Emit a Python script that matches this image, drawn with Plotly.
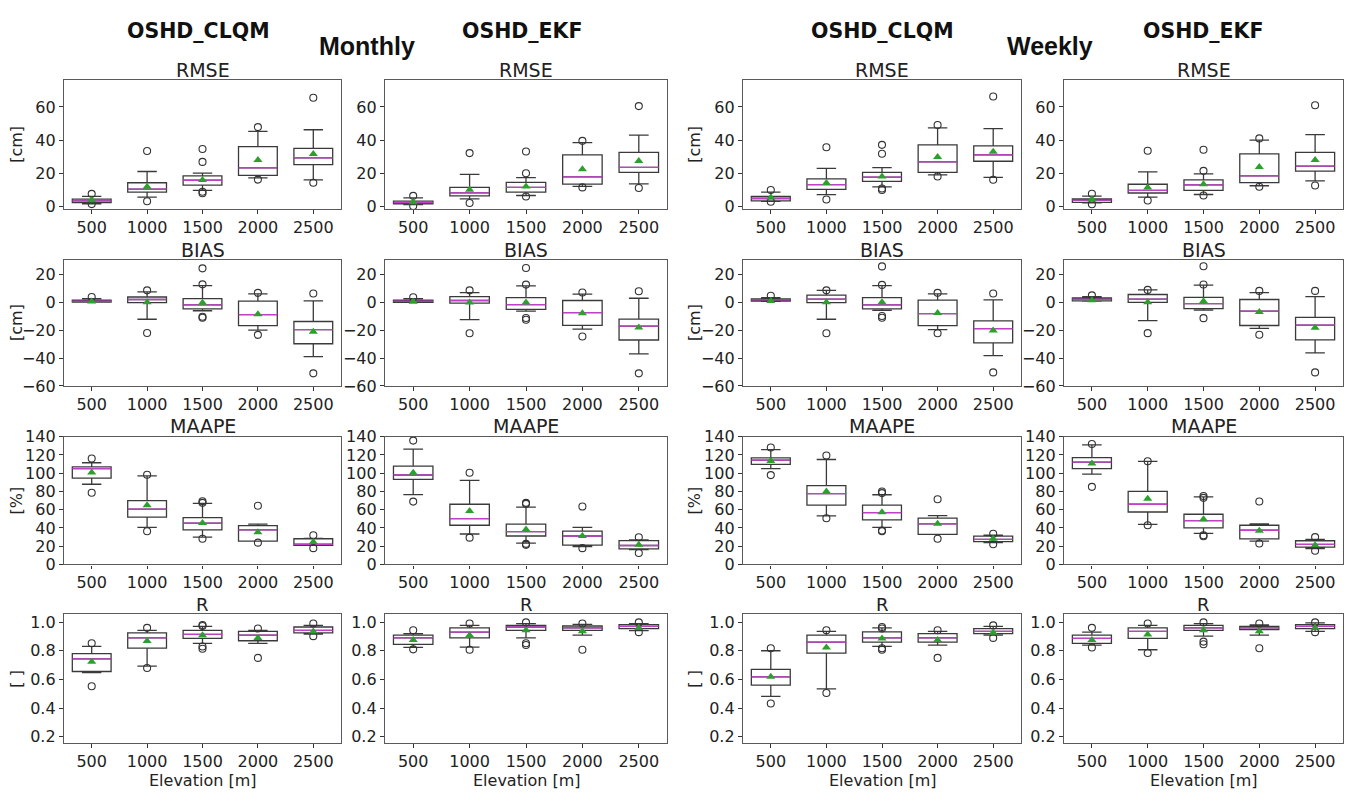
import plotly.graph_objects as go

# page size; the browser adds an 8 px body margin, so the figure is drawn 8 px in
PAGE_W, PAGE_H = 1354, 805
OFF = 8
W, H = PAGE_W - 2 * OFF, PAGE_H - 2 * OFF

ELEV = ["500", "1000", "1500", "2000", "2500"]
XPOS = [0, 1, 2, 3, 4]

# each row (one elevation): lower whisker, q1, median, q3, upper whisker, mean
RMSE_M_CLQM = [[1.5, 2.2, 3.2, 4.3, 6.0, 3.7], [5.5, 8.5, 10.4, 14.2, 21.0, 11.8],
               [9.6, 12.8, 15.7, 18.3, 20.0, 15.9], [17.1, 18.7, 23.2, 36.0, 45.2, 27.9],
               [15.9, 25.2, 29.3, 35.0, 46.2, 31.5]]
RMSE_M_CLQM_OUT = [[7.5, 1.3], [33.4, 3.0], [34.6, 26.8, 8.8, 7.9], [47.8, 16.1], [65.5, 14.2]]

RMSE_M_EKF = [[1.0, 1.4, 2.2, 3.1, 5.1, 2.4], [4.5, 6.3, 8.1, 11.4, 19.3, 10.0],
              [6.5, 8.5, 11.4, 14.4, 17.3, 12.0], [12.0, 13.4, 17.7, 31.1, 38.4, 22.4],
              [13.5, 20.5, 23.5, 32.5, 43.0, 27.3]]
RMSE_M_EKF_OUT = [[6.3, 0.2], [32.1, 2.0], [33.1, 19.9, 5.9], [39.5, 11.4], [60.5, 11.0]]

RMSE_W_CLQM = [[2.9, 3.3, 4.7, 5.9, 8.6, 5.3], [7.0, 10.2, 13.1, 16.6, 22.9, 14.1],
               [11.7, 15.0, 17.6, 20.5, 23.3, 18.0], [19.0, 20.5, 26.8, 37.1, 47.3, 29.7],
               [17.4, 27.2, 31.1, 36.5, 46.9, 33.0]]
RMSE_W_CLQM_OUT = [[9.8, 2.7], [35.6, 4.1], [37.1, 31.7, 10.7, 9.8], [49.1, 18.0], [66.3, 16.0]]

RMSE_W_EKF = [[2.0, 2.4, 3.7, 4.5, 6.1, 4.1], [5.5, 8.0, 9.6, 13.3, 20.8, 11.4],
              [7.1, 9.6, 12.9, 15.9, 19.6, 13.3], [12.4, 14.3, 18.4, 31.6, 40.0, 23.7],
              [15.3, 21.2, 24.3, 32.5, 43.3, 28.0]]
RMSE_W_EKF_OUT = [[7.6, 1.2], [33.5, 3.5], [34.1, 21.4, 6.5], [41.0, 11.8], [61.0, 12.5]]

BIAS_M_CLQM = [[0.2, 0.2, 0.9, 1.6, 2.7, 0.7], [-12.1, -0.2, 2.1, 3.9, 7.6, 0.2],
               [-6.0, -4.6, -1.8, 2.7, 12.1, -0.2], [-19.9, -16.7, -8.7, 0.9, 6.2, -8.5],
               [-38.9, -29.7, -19.5, -13.7, 1.1, -21.0]]
BIAS_M_CLQM_OUT = [[3.9], [8.7, -22.0], [24.5, 13.0, -10.3, -11.0], [6.9, -23.3], [6.4, -51.0]]

BIAS_M_EKF = [[0.0, 0.0, 0.9, 1.6, 2.7, 0.5], [-12.4, -0.5, 1.4, 4.1, 7.1, 0.0],
              [-6.2, -5.0, -1.6, 3.4, 11.9, 0.0], [-19.2, -16.5, -7.3, 1.4, 5.9, -7.8],
              [-37.0, -27.0, -17.0, -12.0, 3.0, -18.0]]
BIAS_M_EKF_OUT = [[3.7], [8.7, -22.2], [24.7, 12.8, -11.2, -12.4], [7.1, -24.5], [8.0, -51.0]]

BIAS_W_CLQM = [[0.7, 0.9, 1.8, 2.5, 3.4, 1.1], [-12.1, -0.2, 2.3, 5.3, 8.7, 0.2],
               [-5.7, -4.6, -1.8, 3.4, 12.1, 0.2], [-19.5, -16.7, -8.0, 1.6, 6.2, -7.6],
               [-38.2, -29.1, -18.8, -13.3, 1.8, -20.1]]
BIAS_W_CLQM_OUT = [[4.8], [8.7, -22.2], [25.9, 12.6, -9.8, -11.0], [6.9, -22.2], [6.4, -50.3]]

BIAS_W_EKF = [[0.9, 1.1, 2.3, 3.2, 4.1, 1.6], [-13.1, 0.0, 2.3, 5.7, 9.0, 0.2],
              [-5.5, -4.4, -0.9, 3.7, 12.4, 0.9], [-18.6, -16.6, -6.2, 2.1, 7.1, -6.9],
              [-36.3, -26.9, -16.3, -10.8, 4.1, -18.2]]
BIAS_W_EKF_OUT = [[5.1], [9.0, -22.1], [26.0, 12.9, -11.3], [8.3, -23.2], [8.3, -50.3]]

MAAPE_M_CLQM = [[87.9, 94.6, 105.0, 106.8, 111.4, 100.7], [40.7, 51.8, 60.7, 70.0, 97.0, 65.0],
                [30.0, 37.9, 45.4, 51.4, 67.0, 45.4], [25.7, 25.7, 37.9, 42.5, 44.3, 35.4],
                [21.1, 21.1, 22.1, 28.2, 28.6, 24.6]]
MAAPE_M_CLQM_OUT = [[116.0, 78.6], [98.2, 36.4], [69.3, 67.5, 28.2], [64.3, 23.9], [32.1, 17.9]]

MAAPE_M_EKF = [[76.5, 93.3, 98.0, 107.7, 126.3, 100.5], [33.4, 43.0, 50.3, 66.0, 92.2, 58.5],
               [23.3, 31.2, 35.9, 44.1, 62.8, 38.4], [19.7, 21.2, 31.2, 36.6, 40.6, 31.2],
               [16.2, 17.2, 20.8, 26.2, 26.9, 21.5]]
MAAPE_M_EKF_OUT = [[135.7, 68.9], [100.5, 29.4], [67.5, 66.4, 22.6, 21.5], [63.5, 17.9], [29.8, 12.6]]

MAAPE_W_CLQM = [[105.0, 109.6, 114.3, 116.8, 125.7, 113.2], [53.2, 65.0, 77.5, 86.4, 115.0, 80.0],
                [40.7, 48.9, 56.8, 65.0, 76.4, 57.1], [32.9, 32.9, 44.6, 50.7, 53.6, 44.6],
                [23.9, 25.0, 27.5, 31.1, 32.1, 28.2]]
MAAPE_W_CLQM_OUT = [[128.2, 97.9], [119.3, 50.7], [80.0, 78.2, 37.1, 36.4], [71.4, 28.2], [33.6, 22.1]]

MAAPE_W_EKF = [[99.0, 105.0, 112.0, 117.0, 131.0, 110.5], [44.0, 57.5, 66.0, 80.0, 113.0, 72.0],
               [34.0, 40.0, 48.0, 55.0, 74.0, 49.5], [25.5, 28.0, 37.5, 43.0, 44.5, 37.0],
               [17.5, 19.0, 22.0, 26.0, 27.5, 21.0]]
MAAPE_W_EKF_OUT = [[132.0, 85.0], [113.0, 43.0], [75.0, 73.0, 32.0, 31.0], [69.0, 23.0], [30.0, 15.0]]

R_M_CLQM = [[0.648, 0.655, 0.743, 0.78, 0.83, 0.723], [0.693, 0.818, 0.89, 0.925, 0.943, 0.868],
            [0.852, 0.886, 0.914, 0.943, 0.97, 0.909], [0.852, 0.87, 0.909, 0.936, 0.943, 0.89],
            [0.916, 0.925, 0.943, 0.966, 0.977, 0.935]]
R_M_CLQM_OUT = [[0.852, 0.552], [0.96, 0.68], [0.98, 0.973, 0.83, 0.814], [0.955, 0.75], [0.99, 0.902]]

R_M_EKF = [[0.823, 0.845, 0.89, 0.909, 0.92, 0.875], [0.825, 0.89, 0.93, 0.96, 0.977, 0.909],
           [0.89, 0.943, 0.966, 0.977, 0.99, 0.943], [0.909, 0.943, 0.96, 0.973, 0.984, 0.936],
           [0.94, 0.955, 0.97, 0.982, 0.99, 0.96]]
R_M_EKF_OUT = [[0.943, 0.81], [0.99, 0.807], [0.998, 0.852, 0.84], [0.99, 0.807], [0.998, 0.93]]

R_W_CLQM = [[0.482, 0.56, 0.618, 0.67, 0.8, 0.618], [0.534, 0.784, 0.86, 0.909, 0.936, 0.823],
            [0.83, 0.86, 0.89, 0.932, 0.96, 0.886], [0.84, 0.86, 0.89, 0.92, 0.936, 0.875],
            [0.909, 0.92, 0.936, 0.955, 0.97, 0.925]]
R_W_CLQM_OUT = [[0.818, 0.432], [0.943, 0.505], [0.966, 0.955, 0.818, 0.807], [0.943, 0.75], [0.977, 0.89]]

R_W_EKF = [[0.84, 0.852, 0.886, 0.909, 0.93, 0.875], [0.807, 0.886, 0.936, 0.96, 0.977, 0.914],
           [0.902, 0.943, 0.96, 0.977, 0.99, 0.943], [0.909, 0.948, 0.96, 0.97, 0.98, 0.936],
           [0.936, 0.955, 0.97, 0.982, 0.995, 0.96]]
R_W_EKF_OUT = [[0.96, 0.823], [0.99, 0.784], [0.998, 0.864, 0.845], [0.99, 0.818], [0.998, 0.93]]

METRICS = ["RMSE", "BIAS", "MAAPE", "R"]
UNITS = ["[cm]", "[cm]", "[%]", "[ ]"]
GRID = [
    [(RMSE_M_CLQM, RMSE_M_CLQM_OUT), (RMSE_M_EKF, RMSE_M_EKF_OUT), (RMSE_W_CLQM, RMSE_W_CLQM_OUT), (RMSE_W_EKF, RMSE_W_EKF_OUT)],
    [(BIAS_M_CLQM, BIAS_M_CLQM_OUT), (BIAS_M_EKF, BIAS_M_EKF_OUT), (BIAS_W_CLQM, BIAS_W_CLQM_OUT), (BIAS_W_EKF, BIAS_W_EKF_OUT)],
    [(MAAPE_M_CLQM, MAAPE_M_CLQM_OUT), (MAAPE_M_EKF, MAAPE_M_EKF_OUT), (MAAPE_W_CLQM, MAAPE_W_CLQM_OUT), (MAAPE_W_EKF, MAAPE_W_EKF_OUT)],
    [(R_M_CLQM, R_M_CLQM_OUT), (R_M_EKF, R_M_EKF_OUT), (R_W_CLQM, R_W_CLQM_OUT), (R_W_EKF, R_W_EKF_OUT)],
]

# layout / styling (page pixels)
COL_PX = [(64, 341), (385, 667), (743, 1021), (1064, 1343)]
ROW_PX = [(73, 205), (257, 386), (438, 569), (620, 752)]
TITLE_SIZE = [19, 19, 19, 18]
Y_RANGE = [[-1.8, 76], [-60, 30.5], [0, 140], [0.155, 1.055]]
Y_TICKS = [[0, 20, 40, 60], [-60, -40, -20, 0, 20], [0, 20, 40, 60, 80, 100, 120, 140],
           [0.2, 0.4, 0.6, 0.8, 1.0]]
Y_TICKTEXT = [["0", "20", "40", "60"], ["\u221260", "\u221240", "\u221220", "0", "20"],
              ["0", "20", "40", "60", "80", "100", "120", "140"],
              ["0.2", "0.4", "0.6", "0.8", "1.0"]]

FONT = "DejaVu Sans"
TXT = "#222222"
EDGE = "#3a3a3a"
MED = "#c040c8"
MEAN = "#2ca02c"

fig = go.Figure()
layout = dict(width=W, height=H, margin=dict(l=0, r=0, t=0, b=0),
              paper_bgcolor="white", plot_bgcolor="white", showlegend=False,
              boxmode="overlay", font=dict(family=FONT, color=TXT))
annotations = []


def px_x(p):
    return (p - OFF) / W


def px_y(p):
    return 1 - (p - OFF) / H


for r in range(4):
    for c in range(4):
        n = r * 4 + c + 1
        xs = "x" if n == 1 else f"x{n}"
        ys = "y" if n == 1 else f"y{n}"
        stats, outs = GRID[r][c]
        lw = [s[0] for s in stats]
        q1 = [s[1] for s in stats]
        med = [s[2] for s in stats]
        q3 = [s[3] for s in stats]
        uw = [s[4] for s in stats]
        mean = [s[5] for s in stats]
        fig.add_trace(go.Box(x=XPOS, q1=q1, median=med, q3=q3, lowerfence=lw, upperfence=uw,
                             width=0.7, whiskerwidth=0.5, fillcolor="white",
                             line=dict(color=EDGE, width=1.3), boxpoints=False,
                             xaxis=xs, yaxis=ys, hoverinfo="skip"))
        fig.add_trace(go.Box(x=XPOS, q1=med, median=med, q3=med, lowerfence=med, upperfence=med,
                             width=0.7, whiskerwidth=0, fillcolor="rgba(0,0,0,0)",
                             line=dict(color=MED, width=1.3), boxpoints=False,
                             xaxis=xs, yaxis=ys, hoverinfo="skip"))
        ox, oy = [], []
        for i, lst in enumerate(outs):
            for v in lst:
                ox.append(XPOS[i])
                oy.append(v)
        fig.add_trace(go.Scatter(x=ox, y=oy, mode="markers", xaxis=xs, yaxis=ys,
                                 marker=dict(symbol="circle-open", size=7, color="#333333",
                                             line=dict(width=1.1)), hoverinfo="skip"))
        fig.add_trace(go.Scatter(x=XPOS, y=mean, mode="markers", xaxis=xs, yaxis=ys,
                                 marker=dict(symbol="triangle-up", size=8, color=MEAN),
                                 hoverinfo="skip"))

        x0, x1 = COL_PX[c]
        y0, y1 = ROW_PX[r]
        axstyle = dict(showgrid=False, zeroline=False, showline=True, mirror=True,
                       linecolor="#5a5a5a", linewidth=1.3, ticks="outside",
                       tickcolor="#333333", tickfont=dict(family=FONT, size=16, color=TXT))
        layout["xaxis" if n == 1 else f"xaxis{n}"] = dict(
            domain=[px_x(x0), px_x(x1)], anchor=ys, range=[-0.5, 4.5], ticklen=3.5,
            tickvals=XPOS, ticktext=ELEV, **axstyle)
        layout["yaxis" if n == 1 else f"yaxis{n}"] = dict(
            domain=[px_y(y1), px_y(y0)], anchor=xs, range=Y_RANGE[r], ticklen=4,
            tickvals=Y_TICKS[r], ticktext=Y_TICKTEXT[r], **axstyle)

        annotations.append(dict(text=METRICS[r], x=px_x((x0 + x1) / 2), y=px_y(y0 - 10.5),
                                xref="paper", yref="paper", xanchor="center", yanchor="middle",
                                height=18, valign="middle", showarrow=False,
                                font=dict(family=FONT, size=TITLE_SIZE[r], color=TXT)))
        if c in (0, 2):
            lx = 17 if c == 0 else 695
            annotations.append(dict(text=UNITS[r], x=px_x(lx), y=px_y((y0 + y1) / 2),
                                    xref="paper", yref="paper", xanchor="center", yanchor="middle",
                                    textangle=-90, showarrow=False,
                                    font=dict(family=FONT, size=16, color=TXT)))
        if r == 3:
            annotations.append(dict(text="Elevation [m]", x=px_x((x0 + x1) / 2), y=px_y(790),
                                    xref="paper", yref="paper", xanchor="center", yanchor="middle",
                                    showarrow=False, font=dict(family=FONT, size=16, color=TXT)))

HEADERS = [("OSHD_CLQM", 199, 22, 20.5, FONT), ("OSHD_EKF", 522, 22, 20.5, FONT),
           ("OSHD_CLQM", 882, 22, 20.5, FONT), ("OSHD_EKF", 1203, 22, 20.5, FONT),
           ("Monthly", 367, 38, 25, "Liberation Sans"), ("Weekly", 1050, 38, 25, "Liberation Sans")]
for text, hx, hy, size, fam in HEADERS:
    annotations.append(dict(text=f"<b>{text}</b>", x=px_x(hx), y=px_y(hy), xref="paper", yref="paper",
                            xanchor="center", yanchor="middle", showarrow=False,
                            font=dict(family=fam, size=size, color="#111111")))

layout["annotations"] = annotations
fig.update_layout(**layout)
fig.write_html("out.html")
